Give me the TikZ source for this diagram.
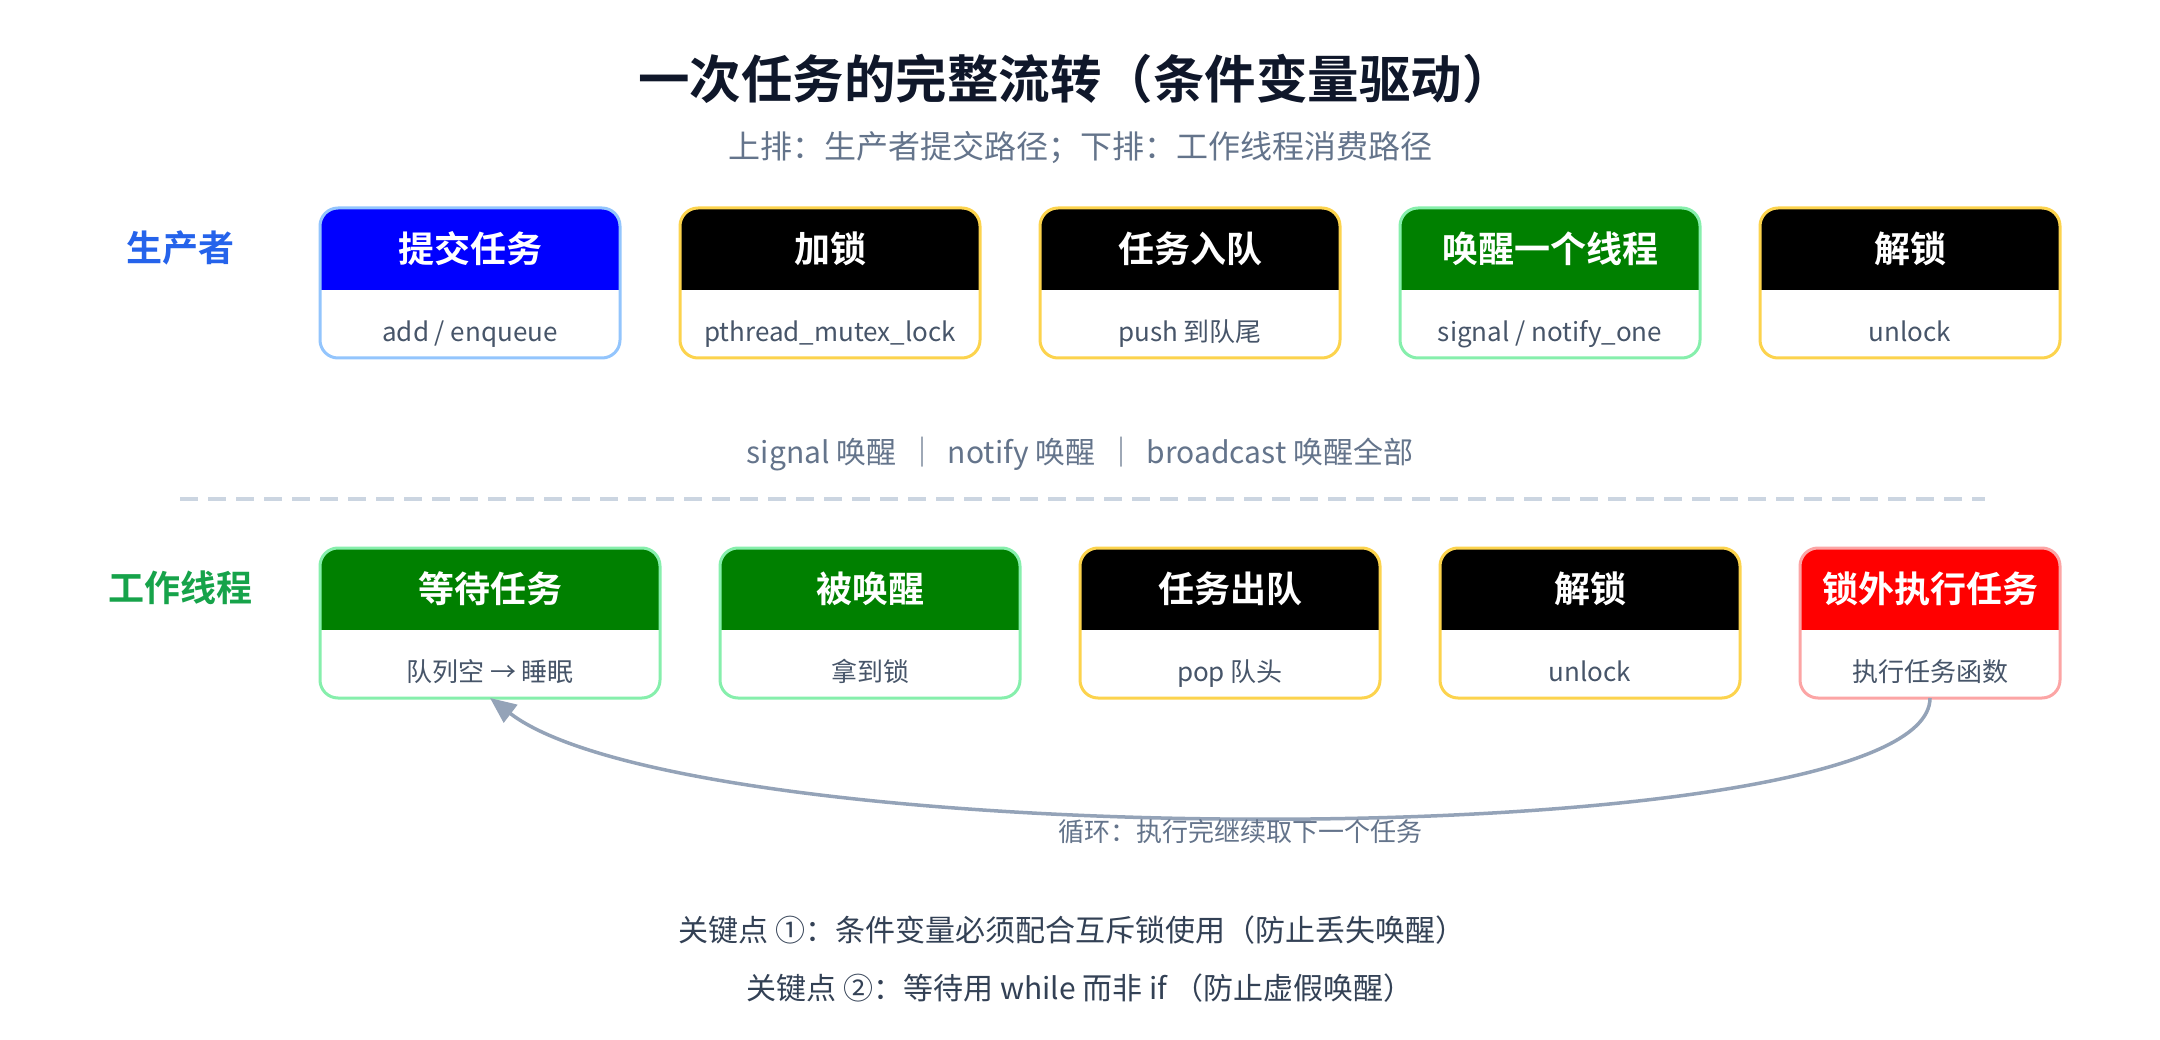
\documentclass[tikz,border=0pt]{standalone}
\usepackage{fontspec}
\setmainfont{Noto Sans CJK SC}[BoldFont={Noto Sans CJK SC Bold}]
\usetikzlibrary{arrows.meta}
\definecolor{cTitle}{HTML}{0F172A}
\definecolor{cSubT}{HTML}{64748B}
\definecolor{cProd}{HTML}{2563EB}
\definecolor{cWork}{HTML}{16A34A}
\definecolor{cBody}{HTML}{475569}
\definecolor{cKey}{HTML}{334155}
\definecolor{bBlue}{HTML}{93C5FD}
\definecolor{bYellow}{HTML}{FCD34D}
\definecolor{bGreen}{HTML}{86EFAC}
\definecolor{bRed}{HTML}{FCA5A5}
\definecolor{hBlue}{HTML}{0000FF}
\definecolor{hBlack}{HTML}{000000}
\definecolor{hGreen}{HTML}{008000}
\definecolor{hRed}{HTML}{FF0000}
\definecolor{cDash}{HTML}{CBD5E1}
\definecolor{cLoop}{HTML}{94A3B8}
\begin{document}
\begin{tikzpicture}[x=1pt,y=-1pt,
  txt/.style={inner sep=0pt, outer sep=0pt, text height=0.88em, text depth=0.12em, anchor=center},
  stagebox/.style={draw, line width=3pt, rounded corners=18pt, fill=white, minimum height=150pt, inner sep=0pt, outer sep=0pt},
  hdr/.style={path picture={\fill[#1, sharp corners] (path picture bounding box.north west) rectangle ([yshift=-82pt]path picture bounding box.north east);}},
  head/.style={node font=\fontsize{36}{40}\selectfont\bfseries, txt, text=white},
  sub/.style={node font=\fontsize{26}{30}\selectfont, txt, text=cBody},
  rowlabel/.style={node font=\fontsize{36}{40}\selectfont\bfseries, txt},
  loopline/.style={draw=cLoop, line width=3.5pt, -{Triangle[length=26pt,width=22pt]}},
]
\useasboundingbox[fill=white] (0,0) rectangle (2160,1040);

% title
\node[node font=\fontsize{51.5}{56}\selectfont\bfseries, txt, text=cTitle] (title) at (1076,79) {一次任务的完整流转（条件变量驱动）};
\node[node font=\fontsize{32}{36}\selectfont, txt, text=cSubT] (subtitle) at (1080,146) {上排：生产者提交路径；下排：工作线程消费路径};

% row labels
\node[rowlabel, text=cProd] (lp) at (180,248) {生产者};
\node[rowlabel, text=cWork] (lw) at (180,588) {工作线程};

% producer row
\node[stagebox, draw=bBlue, minimum width=300pt, hdr=hBlue] (p1) at (470,283) {};
\node[stagebox, draw=bYellow, minimum width=300pt, hdr=hBlack] (p2) at (830,283) {};
\node[stagebox, draw=bYellow, minimum width=300pt, hdr=hBlack] (p3) at (1190,283) {};
\node[stagebox, draw=bGreen, minimum width=300pt, hdr=hGreen] (p4) at (1550,283) {};
\node[stagebox, draw=bYellow, minimum width=300pt, hdr=hBlack] (p5) at (1910,283) {};

\node[head] (p1h) at ([yshift=-41pt]p1.north) {提交任务};
\node[head] (p2h) at ([yshift=-41pt]p2.north) {加锁};
\node[head] (p3h) at ([yshift=-41pt]p3.north) {任务入队};
\node[head] (p4h) at ([yshift=-41pt]p4.north) {唤醒一个线程};
\node[head] (p5h) at ([yshift=-41pt]p5.north) {解锁};

\node[sub] (p1s) at ([yshift=26pt]p1.south) {add / enqueue};
\node[sub] (p2s) at ([yshift=26pt]p2.south) {pthread\_mutex\_lock};
\node[sub] (p3s) at ([yshift=26pt]p3.south) {push 到队尾};
\node[sub] (p4s) at ([yshift=26pt]p4.south) {signal / notify\_one};
\node[sub] (p5s) at ([yshift=26pt]p5.south) {unlock};

% middle text and divider
\node[node font=\fontsize{30}{34}\selectfont, txt, text=cSubT] (mid) at (1080,452) {signal 唤醒\hspace{4pt} ｜ \hspace{4pt}notify 唤醒\hspace{4pt} ｜ \hspace{4pt}broadcast 唤醒全部};
\coordinate (dl) at (180,499);
\coordinate (dr) at (1985,499);
\draw[cDash, line width=4pt, dash pattern=on 18pt off 10pt] (dl) -- (dr);

% worker row
\node[stagebox, draw=bGreen, minimum width=340pt, hdr=hGreen] (w1) at (490,623) {};
\node[stagebox, draw=bGreen, minimum width=300pt, hdr=hGreen] (w2) at (870,623) {};
\node[stagebox, draw=bYellow, minimum width=300pt, hdr=hBlack] (w3) at (1230,623) {};
\node[stagebox, draw=bYellow, minimum width=300pt, hdr=hBlack] (w4) at (1590,623) {};
\node[stagebox, draw=bRed, minimum width=260pt, hdr=hRed] (w5) at (1930,623) {};

\node[head] (w1h) at ([yshift=-41pt]w1.north) {等待任务};
\node[head] (w2h) at ([yshift=-41pt]w2.north) {被唤醒};
\node[head] (w3h) at ([yshift=-41pt]w3.north) {任务出队};
\node[head] (w4h) at ([yshift=-41pt]w4.north) {解锁};
\node[head] (w5h) at ([yshift=-41pt]w5.north) {锁外执行任务};

\node[sub] (w1s) at ([yshift=26pt]w1.south) {队列空 → 睡眠};
\node[sub] (w2s) at ([yshift=26pt]w2.south) {拿到锁};
\node[sub] (w3s) at ([yshift=26pt]w3.south) {pop 队头};
\node[sub] (w4s) at ([yshift=26pt]w4.south) {unlock};
\node[sub] (w5s) at ([yshift=26pt]w5.south) {执行任务函数};

% loop arrow
\draw[loopline] (w5.south) .. controls +(0,159) and +(208,159) .. (w1.south);
\node[node font=\fontsize{26}{30}\selectfont, txt, text=cSubT] (looplbl) at (1240,832) {循环：执行完继续取下一个任务};

% key points
\node[node font=\fontsize{30}{34}\selectfont, txt, text=cKey] (k1) at (1072,930) {关键点 ①：条件变量必须配合互斥锁使用（防止丢失唤醒）};
\node[node font=\fontsize{30}{34}\selectfont, txt, text=cKey] (k2) at (1080,988) {关键点 ②：等待用 while 而非 if\hspace{6pt}（防止虚假唤醒）};
\end{tikzpicture}
\end{document}
